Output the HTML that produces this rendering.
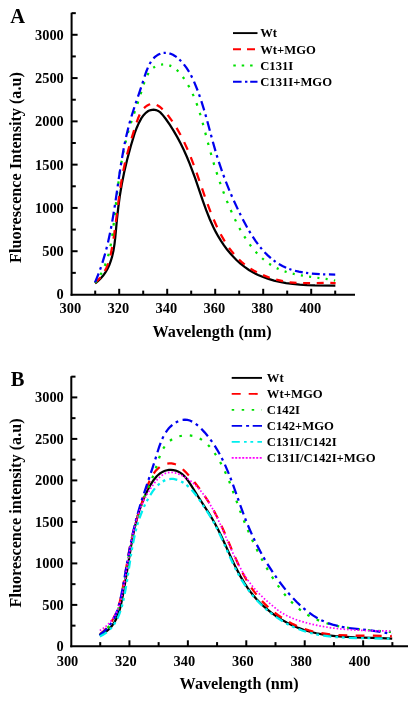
<!DOCTYPE html>
<html><head><meta charset="utf-8"><style>
html,body{margin:0;padding:0;background:#fff;width:417px;height:701px;overflow:hidden}
svg{display:block}
text{font-family:"Liberation Serif",serif;font-weight:bold}
svg{will-change:transform}
</style></head><body>
<svg width="417" height="701" viewBox="0 0 417 701">
<rect width="417" height="701" fill="#fff"/>
<g font-size="20.5"><text x="10.3" y="22.8">A</text><text x="10.8" y="385.7">B</text></g>
<g stroke="#000" stroke-width="2" fill="none">
<line x1="71.6" y1="12.8" x2="71.6" y2="295.8" />
<line x1="71.6" y1="272.86" x2="75.80" y2="272.86"/>
<line x1="71.6" y1="251.22" x2="77.60" y2="251.22"/>
<line x1="71.6" y1="229.57" x2="75.80" y2="229.57"/>
<line x1="71.6" y1="207.93" x2="77.60" y2="207.93"/>
<line x1="71.6" y1="186.29" x2="75.80" y2="186.29"/>
<line x1="71.6" y1="164.65" x2="77.60" y2="164.65"/>
<line x1="71.6" y1="143.00" x2="75.80" y2="143.00"/>
<line x1="71.6" y1="121.36" x2="77.60" y2="121.36"/>
<line x1="71.6" y1="99.72" x2="75.80" y2="99.72"/>
<line x1="71.6" y1="78.08" x2="77.60" y2="78.08"/>
<line x1="71.6" y1="56.43" x2="75.80" y2="56.43"/>
<line x1="71.6" y1="34.79" x2="77.60" y2="34.79"/>
<line x1="71.6" y1="13.15" x2="75.80" y2="13.15"/>
<line x1="70.6" y1="294.8" x2="355" y2="294.8" />
<line x1="95.20" y1="294.8" x2="95.20" y2="290.60"/>
<line x1="119.20" y1="294.8" x2="119.20" y2="288.80"/>
<line x1="143.20" y1="294.8" x2="143.20" y2="290.60"/>
<line x1="167.20" y1="294.8" x2="167.20" y2="288.80"/>
<line x1="191.20" y1="294.8" x2="191.20" y2="290.60"/>
<line x1="215.20" y1="294.8" x2="215.20" y2="288.80"/>
<line x1="239.20" y1="294.8" x2="239.20" y2="290.60"/>
<line x1="263.20" y1="294.8" x2="263.20" y2="288.80"/>
<line x1="287.20" y1="294.8" x2="287.20" y2="290.60"/>
<line x1="311.20" y1="294.8" x2="311.20" y2="288.80"/>
<line x1="335.20" y1="294.8" x2="335.20" y2="290.60"/>
<line x1="71.3" y1="376.2" x2="71.3" y2="647.3" />
<line x1="71.3" y1="625.65" x2="75.50" y2="625.65"/>
<line x1="71.3" y1="604.90" x2="77.30" y2="604.90"/>
<line x1="71.3" y1="584.15" x2="75.50" y2="584.15"/>
<line x1="71.3" y1="563.40" x2="77.30" y2="563.40"/>
<line x1="71.3" y1="542.65" x2="75.50" y2="542.65"/>
<line x1="71.3" y1="521.90" x2="77.30" y2="521.90"/>
<line x1="71.3" y1="501.15" x2="75.50" y2="501.15"/>
<line x1="71.3" y1="480.40" x2="77.30" y2="480.40"/>
<line x1="71.3" y1="459.65" x2="75.50" y2="459.65"/>
<line x1="71.3" y1="438.90" x2="77.30" y2="438.90"/>
<line x1="71.3" y1="418.15" x2="75.50" y2="418.15"/>
<line x1="71.3" y1="397.40" x2="77.30" y2="397.40"/>
<line x1="71.3" y1="376.65" x2="75.50" y2="376.65"/>
<line x1="70.3" y1="646.3" x2="408" y2="646.3" />
<line x1="100.22" y1="646.3" x2="100.22" y2="642.10"/>
<line x1="129.43" y1="646.3" x2="129.43" y2="640.30"/>
<line x1="158.64" y1="646.3" x2="158.64" y2="642.10"/>
<line x1="187.86" y1="646.3" x2="187.86" y2="640.30"/>
<line x1="217.07" y1="646.3" x2="217.07" y2="642.10"/>
<line x1="246.29" y1="646.3" x2="246.29" y2="640.30"/>
<line x1="275.50" y1="646.3" x2="275.50" y2="642.10"/>
<line x1="304.72" y1="646.3" x2="304.72" y2="640.30"/>
<line x1="333.94" y1="646.3" x2="333.94" y2="642.10"/>
<line x1="363.15" y1="646.3" x2="363.15" y2="640.30"/>
<line x1="392.37" y1="646.3" x2="392.37" y2="642.10"/>
</g>
<g font-size="14.4">
<text x="63.8" y="299.4" text-anchor="end">0</text>
<text x="63.8" y="256.1" text-anchor="end">500</text>
<text x="63.8" y="212.8" text-anchor="end">1000</text>
<text x="63.8" y="169.5" text-anchor="end">1500</text>
<text x="63.8" y="126.3" text-anchor="end">2000</text>
<text x="63.8" y="83.0" text-anchor="end">2500</text>
<text x="63.8" y="39.7" text-anchor="end">3000</text>
<text x="70.4" y="313" text-anchor="middle">300</text>
<text x="118.4" y="313" text-anchor="middle">320</text>
<text x="166.4" y="313" text-anchor="middle">340</text>
<text x="214.4" y="313" text-anchor="middle">360</text>
<text x="262.4" y="313" text-anchor="middle">380</text>
<text x="310.4" y="313" text-anchor="middle">400</text>
<text x="63.8" y="651.3" text-anchor="end">0</text>
<text x="63.8" y="609.8" text-anchor="end">500</text>
<text x="63.8" y="568.3" text-anchor="end">1000</text>
<text x="63.8" y="526.8" text-anchor="end">1500</text>
<text x="63.8" y="485.3" text-anchor="end">2000</text>
<text x="63.8" y="443.8" text-anchor="end">2500</text>
<text x="63.8" y="402.3" text-anchor="end">3000</text>
<text x="67.5" y="665.8" text-anchor="middle">300</text>
<text x="125.9" y="665.8" text-anchor="middle">320</text>
<text x="184.4" y="665.8" text-anchor="middle">340</text>
<text x="242.8" y="665.8" text-anchor="middle">360</text>
<text x="301.2" y="665.8" text-anchor="middle">380</text>
<text x="359.6" y="665.8" text-anchor="middle">400</text>
</g>
<g font-size="16.2">
<text x="152.5" y="337.4">Wavelength (nm)</text>
<text x="179.6" y="689.4">Wavelength (nm)</text>
<text transform="translate(20.8,262.9) rotate(-90)">Fluorescence Intensity (a.u)</text>
<text transform="translate(20.8,607.4) rotate(-90)">Fluorescence intensity (a.u)</text>
</g>
<g fill="none" stroke-width="2.25">
<path d="M95.17,283.41L98.13,281.00L100.87,278.30L103.40,275.32L105.59,272.16L107.56,268.72L109.30,264.99L110.81,260.98L112.09,256.68L113.43,250.73L114.53,243.83L115.25,237.62L116.95,219.51L118.25,207.67L119.87,195.66L121.72,184.45L124.17,172.29L127.18,159.54L130.89,145.75L134.53,133.72L136.65,127.97L138.89,122.91L141.28,118.45L143.56,115.17L145.84,112.74L148.19,111.09L149.39,110.53L150.78,110.07L152.20,109.81L153.62,109.73L155.99,110.05L158.19,110.94L160.30,112.45L162.43,114.62L165.83,119.03L169.92,124.93L173.65,130.84L177.28,137.14L180.53,143.29L183.71,149.81L186.74,156.57L189.76,163.84L195.13,178.12L202.94,201.08L206.09,209.89L209.69,219.02L213.27,226.99L215.74,231.89L218.27,236.44L221.00,240.91L223.83,245.13L226.85,249.23L229.95,253.06L233.11,256.60L236.42,259.97L240.47,263.66L244.61,266.96L248.94,269.96L253.32,272.55L258.13,274.97L263.11,277.07L268.39,278.92L274.09,280.56L279.91,281.90L286.13,283.04L292.75,283.95L299.73,284.63L307.03,285.11L314.94,285.40L335.34,285.52" stroke="#000"/>
<path d="M94.99,282.80L97.85,280.26L100.47,277.41M104.78,271.04L106.56,267.43L108.16,263.37M110.45,255.49L112.17,246.96M113.52,238.74L114.77,230.08M115.87,221.80L116.97,213.11M118.02,204.81L119.16,196.13M120.34,187.87L121.73,179.25M123.25,171.07L125.08,162.58M127.04,154.55L129.28,146.23M131.58,138.35L134.12,130.15M136.64,122.39L138.22,118.02L139.74,114.52M144.00,108.13L145.39,106.84L146.96,105.69L148.62,104.80L150.17,104.25M156.69,104.97L158.15,105.75L159.63,106.74L162.69,109.36M167.63,114.95L172.36,121.40M176.55,127.91L180.60,135.06M184.18,142.13L187.66,149.75M190.75,157.18L193.80,165.09M196.58,172.72L199.40,180.76M202.06,188.46L204.87,196.51M207.62,204.15L210.64,212.08M213.69,219.54L217.12,227.19M220.68,234.28L224.76,241.40M229.04,247.82L231.44,251.03L233.93,254.07M239.00,259.48L241.78,262.05L244.71,264.50M250.50,268.60L253.58,270.47L256.82,272.25M263.05,275.16L269.71,277.68M276.16,279.62L283.00,281.20M289.58,282.28L296.51,282.98M303.14,283.24L310.09,283.22M316.73,283.06L323.68,282.91M330.32,282.92L335.63,283.12" stroke="#ff0000"/>
<path d="M95.18,282.90L96.57,280.99M100.47,274.83L101.63,272.68M104.77,265.86L105.67,263.53M108.06,256.23L108.73,253.77M110.46,246.18L110.95,243.66M112.20,235.92L112.56,233.36M113.53,225.56L113.82,222.98M114.69,215.16L114.97,212.58M115.83,204.76L116.11,202.18M117.00,194.36L117.30,191.79M118.26,183.99L118.60,181.42M119.67,173.64L120.05,171.08M121.29,163.34L121.73,160.80M123.16,153.11L123.67,150.60M125.35,142.99L125.95,140.50M127.91,133.00L128.61,130.55M130.87,123.19L131.65,120.79M134.10,113.52L134.92,111.14M137.41,103.89L138.22,101.50M140.62,94.21L141.37,91.79M143.63,84.43L144.43,82.03M147.37,75.08L148.60,72.99M153.26,67.80L155.08,66.60M161.09,64.61L163.14,64.46M169.32,65.37L171.28,66.15M176.75,69.91L178.37,71.50M182.86,76.98L184.23,78.92M188.12,85.10L189.31,87.22M192.64,93.89L193.66,96.15M196.49,103.19L197.34,105.56M199.76,112.84L200.50,115.26M202.62,122.69L203.29,125.15M205.27,132.65L205.91,135.11M207.89,142.61L208.55,145.07M210.61,152.53L211.31,154.97M213.48,162.38L214.21,164.81M216.51,172.15L217.29,174.56M219.73,181.83L220.56,184.21M223.17,191.38L224.05,193.73M226.83,200.81L227.77,203.12M230.73,210.07L231.73,212.34M234.88,219.16L235.96,221.37M239.38,227.98L240.55,230.12M244.29,236.44L245.57,238.47M249.68,244.41L251.10,246.29M255.63,251.73L257.19,253.42M262.14,258.23L263.83,259.69M269.19,263.74L271.02,264.94M276.72,268.13L278.65,269.04M284.61,271.36L286.60,272.01M292.70,273.67L294.72,274.13M300.89,275.35L302.92,275.70M309.12,276.64L311.16,276.93M317.37,277.75L319.41,278.02M325.61,278.88L327.65,279.19M333.84,280.27L335.17,280.54" stroke="#00e000"/>
<path d="M95.04,282.37L98.67,273.50M100.08,269.69L100.98,267.13M102.38,262.89L105.17,253.53M106.23,249.56L106.91,246.89M107.98,242.49L110.08,232.86M110.89,228.78L111.41,226.06M112.23,221.58L113.87,211.80M114.53,207.68L114.95,204.93M115.63,200.41L117.06,190.58M117.66,186.45L118.06,183.69M118.71,179.17L120.18,169.34M120.83,165.22L121.27,162.48M122.02,157.98L123.77,148.23M124.57,144.15L125.12,141.44M126.08,137.00L128.36,127.43M129.41,123.45L130.15,120.81M131.42,116.50L134.38,107.22M135.67,103.36L136.54,100.78M137.98,96.56L141.09,87.37M142.37,83.49L143.21,80.90M144.57,76.64L146.32,71.51L147.89,67.57M149.61,63.98L150.93,61.73M153.44,58.42L155.00,56.88L156.71,55.56L158.42,54.55L160.34,53.72M163.60,52.94L165.81,52.81M169.41,53.33L171.19,53.95L172.97,54.79L174.85,55.91L176.66,57.21M179.41,59.56L181.15,61.28M183.87,64.33L186.54,67.88L189.08,71.83M190.99,75.26L192.19,77.62M194.03,81.58L197.64,90.48M199.03,94.29L199.93,96.85M201.35,101.08L204.23,110.39M205.37,114.34L206.12,116.97M207.32,121.31L209.87,130.78M210.93,134.76L211.65,137.41M212.83,141.76L215.50,151.17M216.67,155.10L217.48,157.70M218.84,161.97L221.96,171.15M223.34,174.98L224.28,177.51M225.86,181.65L229.44,190.56M231.01,194.27L232.07,196.72M233.86,200.73L237.87,209.35M239.61,212.92L240.78,215.29M242.75,219.16L247.18,227.44M249.13,230.84L250.46,233.07M252.71,236.68L255.35,240.63L257.92,244.20M260.25,247.19L261.85,249.12M264.57,252.17L267.74,255.37L270.87,258.19M273.68,260.44L275.59,261.84M278.82,263.96L282.44,265.99L286.13,267.73M289.30,268.97L291.43,269.70M294.97,270.74L298.81,271.66L302.76,272.43M306.05,272.95L308.25,273.24M311.87,273.64L319.76,274.20M323.07,274.34L325.29,274.40M328.92,274.47L335.24,274.50" stroke="#0000ee"/>
<path d="M99.53,635.36L103.02,633.57L106.10,631.53L108.93,629.16L111.49,626.44L113.68,623.50L115.69,620.08L117.44,616.32L118.93,612.23L119.95,608.80L120.94,604.80L123.14,593.88L125.50,580.44L131.12,545.91L132.78,536.77L134.39,528.97L136.49,520.25L138.79,512.21L141.41,504.52L144.29,497.31L147.48,490.42L150.65,484.56L153.67,479.97L156.75,476.30L158.36,474.75L159.94,473.48L161.61,472.37L163.36,471.44L165.05,470.77L166.97,470.25L168.94,469.94L170.94,469.85L173.38,470.04L175.75,470.56L177.99,471.42L180.10,472.60L182.19,474.16L184.27,476.12L186.43,478.58L188.57,481.43L191.17,485.36L198.25,496.76L208.68,512.94L211.95,518.29L214.75,523.19L217.79,528.94L221.03,535.56L231.58,558.65L235.74,567.36L240.19,575.88L244.62,583.40L247.43,587.65L250.31,591.64L253.37,595.50L256.61,599.21L260.01,602.78L263.58,606.19L267.30,609.45L271.29,612.63L276.37,616.29L281.64,619.66L287.10,622.73L292.71,625.49L298.46,627.92L304.18,629.97L310.16,631.74L316.38,633.24L322.37,634.39L328.58,635.33L335.34,636.11L342.47,636.71L354.63,637.35L380.92,638.07L392.20,638.57" stroke="#000"/>
<path d="M99.96,634.14L103.37,631.33L106.47,628.24M111.56,621.57L113.75,617.79L115.67,613.80M118.58,605.92L119.77,601.80L120.86,597.42M122.57,589.20L124.13,580.54M125.52,572.26L126.95,563.57M128.35,555.29L129.96,546.64M131.70,538.42L133.80,529.88M136.04,521.78L138.57,513.35M141.09,505.34L143.79,496.96M146.42,488.99L148.06,484.51L149.62,480.79M153.70,473.46L155.13,471.55L156.61,469.87L158.10,468.44L159.73,467.11M167.30,463.62L169.47,463.33L171.59,463.37L173.84,463.77L175.92,464.49M182.80,469.23L185.44,471.85L188.86,475.61M194.30,482.01L199.72,488.95M204.60,495.78L209.39,503.16M213.64,510.40L217.77,518.17M221.42,525.74L225.01,533.77M228.32,541.49L231.76,549.60M235.10,557.30L238.76,565.30M242.50,572.82L246.77,580.52M251.27,587.61L253.80,591.18L256.50,594.68M262.00,601.03L265.03,604.14L268.26,607.21M274.68,612.62L278.15,615.22L281.83,617.75M289.03,622.08L292.98,624.14L296.91,625.98M304.73,629.05L308.89,630.37L313.17,631.52M321.40,633.21L330.12,634.40M338.49,635.10L347.28,635.49M355.68,635.64L364.48,635.68M372.88,635.71L381.67,635.84M390.07,636.18L391.88,636.30" stroke="#ff0000"/>
<path d="M99.81,635.00L101.87,633.41M107.54,627.92L109.19,625.92M113.56,619.34L114.78,617.05M117.91,609.80L118.77,607.34M120.97,599.76L121.58,597.23M123.20,589.50L123.68,586.95M125.04,579.16L125.46,576.60M126.70,568.80L127.10,566.23M128.34,558.42L128.75,555.86M130.10,548.07L130.58,545.52M132.15,537.78L132.72,535.24M134.60,527.57L135.26,525.05M137.44,517.46L138.20,514.97M140.67,507.47L141.53,505.02M144.29,497.61L145.24,495.19M148.27,487.90L149.28,485.50M152.27,478.19L153.20,475.76M155.76,468.29L156.54,465.81M159.00,458.30L159.90,455.86M163.23,448.71L164.61,446.50M169.95,440.72L172.09,439.26M179.37,436.27L181.91,435.73M189.79,435.43L192.36,435.80M199.75,438.50L201.97,439.85M208.01,444.93L209.77,446.83M214.60,453.08L216.05,455.24M220.12,462.01L221.36,464.29M224.88,471.36L225.96,473.73M229.05,481.00L230.01,483.42M232.81,490.80L233.71,493.24M236.39,500.68L237.27,503.12M239.98,510.54L240.90,512.97M243.77,520.33L244.75,522.74M247.79,530.03L248.82,532.42M252.06,539.63L253.16,541.98M256.60,549.09L257.76,551.42M261.42,558.42L262.66,560.71M266.53,567.59L267.84,569.84M271.95,576.58L273.35,578.78M277.77,585.32L279.28,587.43M284.11,593.69L285.77,595.69M291.08,601.53L292.92,603.37M298.80,608.64L300.84,610.26M307.34,614.75L309.58,616.07M316.65,619.58L319.05,620.59M326.50,623.21L328.99,623.94M336.66,625.85L339.20,626.37M346.98,627.73L349.56,628.11M357.40,629.08L359.98,629.35M367.85,630.08L370.44,630.29M378.31,630.91L380.91,631.11M388.78,631.77L391.00,631.98" stroke="#00e000"/>
<path d="M99.51,635.09L103.47,631.95L106.98,628.47M109.65,625.23L111.25,622.94M113.60,618.98L115.71,614.56L117.53,609.80M118.79,605.79L119.52,603.09M120.59,598.62L122.53,588.81M123.27,584.67L123.76,581.92M124.56,577.39L126.27,567.53M127.00,563.40L127.48,560.64M128.29,556.11L130.13,546.28M130.94,542.16L131.50,539.42M132.45,534.92L134.69,525.17M135.70,521.10L136.41,518.39M137.63,513.95L140.47,504.36M141.73,500.35L142.58,497.69M144.01,493.32L147.18,483.83M148.53,479.85L149.42,477.20M150.88,472.84L154.00,463.34M155.27,459.34L156.11,456.66M157.45,452.26L159.16,446.91L160.63,442.78M162.24,438.90L163.45,436.38M165.75,432.40L167.18,430.34L168.81,428.33L170.48,426.57L172.32,424.91M175.73,422.46L178.19,421.14M182.57,419.76L184.87,419.58L187.35,419.85L189.78,420.53L192.21,421.62M195.74,423.88L197.93,425.63M201.28,428.78L204.63,432.37L207.91,436.26M210.47,439.59L212.11,441.86M214.68,445.68L217.23,449.81L219.76,454.28M221.71,458.00L222.96,460.51M224.92,464.67L228.85,473.87M230.39,477.77L231.39,480.39M232.99,484.70L236.36,494.12M237.75,498.08L238.68,500.72M240.21,505.06L243.63,514.45M245.13,518.38L246.16,520.98M247.89,525.24L251.87,534.42M253.63,538.23L254.83,540.76M256.86,544.89L261.52,553.74M263.57,557.40L264.97,559.82M267.34,563.77L272.72,572.20M275.08,575.67L276.69,577.96M279.39,581.69L285.52,589.59M288.21,592.81L290.04,594.93M293.14,598.33L296.72,602.02L300.24,605.37M303.38,608.15L305.54,609.94M309.18,612.74L313.34,615.61L317.57,618.19M321.27,620.16L323.81,621.35M328.06,623.10L332.58,624.61L337.64,625.94M341.75,626.81L344.51,627.31M349.05,628.00L358.98,629.19M363.16,629.63L365.94,629.92M370.51,630.43L380.42,631.81M384.55,632.59L387.28,633.19M391.72,634.38L391.89,634.43" stroke="#0000ee"/>
<path d="M99.89,636.54L103.41,634.59L106.74,632.25M109.86,629.44L111.69,627.45M113.95,624.52L115.47,622.17M117.47,618.48L119.04,614.94L120.49,610.97M121.72,606.96L122.41,604.35M123.28,600.75L123.88,598.02M124.72,593.90L126.18,585.93M126.88,581.79L127.31,579.13M127.88,575.47L128.30,572.70M128.92,568.55L130.13,560.54M130.77,556.39L131.20,553.72M131.81,550.07L132.29,547.31M133.05,543.18L134.70,535.25M135.66,531.17L136.33,528.55M137.32,524.99L138.12,522.30M139.42,518.31L142.28,510.73M143.96,506.88L145.12,504.44M146.79,501.14L148.14,498.69M150.27,495.07L152.65,491.43L154.91,488.44M157.71,485.31L159.71,483.50M162.73,481.37L165.24,480.13M169.29,479.04L171.21,478.89L173.25,478.98L175.30,479.32L177.27,479.86M181.14,481.48L183.48,482.83M186.49,484.97L188.62,486.79M191.59,489.76L194.12,492.71L196.69,496.05M199.11,499.48L200.63,501.72M202.68,504.79L204.24,507.12M206.57,510.62L210.90,517.46M213.01,521.09L214.31,523.46M216.03,526.73L217.29,529.23M219.12,533.01L222.52,540.36M224.24,544.20L225.33,546.67M226.83,550.05L227.96,552.61M229.68,556.44L233.08,563.79M234.92,567.57L236.13,569.98M237.85,573.26L239.19,575.72M241.28,579.36L245.63,586.19M248.06,589.62L249.68,591.78M251.98,594.68L253.78,596.82M256.56,599.96L262.24,605.74M265.33,608.58L267.37,610.35M270.23,612.70L272.45,614.41M275.84,616.88L282.64,621.29M286.28,623.38L288.67,624.64M291.98,626.28L294.53,627.44M298.41,629.06L302.23,630.47L306.06,631.72M310.10,632.86L312.72,633.52M316.33,634.32L319.08,634.86M323.22,635.56L331.25,636.61M335.43,637.02L338.12,637.23M341.81,637.48L344.61,637.63M348.80,637.82L356.90,638.05M361.10,638.13L363.80,638.17M367.50,638.21L370.30,638.25M374.50,638.30L382.60,638.47M386.79,638.60L389.49,638.71" stroke="#00eeee"/>
<path d="M99.79,630.54L101.16,629.72M102.75,628.68L104.05,627.75M105.54,626.57L106.75,625.53M108.14,624.23L109.25,623.08M110.51,621.65L111.52,620.41M112.64,618.88L113.54,617.56M114.54,615.94L115.33,614.55M116.21,612.86L116.89,611.42M117.66,609.68L118.25,608.20M118.91,606.41L119.43,604.90M120.01,603.09L120.46,601.55M120.96,599.72L121.36,598.17M121.80,596.32L122.16,594.76M122.56,592.91L122.88,591.34M123.26,589.48L123.56,587.91M123.91,586.04L124.20,584.47M124.53,582.60L124.81,581.02M125.13,579.15L125.39,577.57M125.70,575.69L125.96,574.11M126.26,572.24L126.51,570.66M126.80,568.78L127.05,567.20M127.34,565.32L127.58,563.74M127.87,561.86L128.12,560.28M128.41,558.40L128.66,556.82M128.96,554.95L129.21,553.37M129.52,551.49L129.78,549.91M130.10,548.04L130.37,546.47M130.71,544.59L131.00,543.02M131.35,541.15L131.65,539.58M132.02,537.72L132.35,536.15M132.74,534.29L133.09,532.73M133.51,530.88L133.88,529.32M134.33,527.48L134.73,525.93M135.22,524.09L135.64,522.55M136.17,520.72L136.63,519.19M137.20,517.38L137.69,515.86M138.30,514.06L138.83,512.55M139.49,510.76L140.06,509.27M140.76,507.50L141.37,506.03M142.12,504.28L142.78,502.82M143.58,501.10L144.28,499.66M145.13,497.96L145.88,496.54M146.78,494.87L147.57,493.48M148.53,491.84L149.36,490.47M150.37,488.86L151.24,487.52M152.30,485.95L153.22,484.64M154.35,483.11L155.33,481.84M156.54,480.38L157.61,479.19M158.95,477.84L160.13,476.76M161.61,475.57L162.93,474.68M164.60,473.76L166.07,473.13M167.90,472.62L169.48,472.39M171.38,472.37L172.97,472.52M174.84,472.88L176.38,473.29M178.18,473.90L179.67,474.49M181.40,475.27L182.83,475.99M184.50,476.89L185.88,477.71M187.48,478.73L188.80,479.64M190.33,480.76L191.58,481.75M193.04,482.97L194.24,484.03M195.62,485.34L196.75,486.47M198.06,487.84L199.14,489.03M200.38,490.46L201.40,491.70M202.58,493.19L203.55,494.46M204.66,496.00L205.58,497.31M206.65,498.88L207.52,500.22M208.54,501.83L209.37,503.19M210.34,504.83L211.14,506.21M212.08,507.87L212.85,509.27M213.75,510.94L214.49,512.36M215.36,514.05L216.08,515.48M216.92,517.18L217.62,518.62M218.43,520.34L219.11,521.79M219.91,523.51L220.57,524.97M221.35,526.70L222.00,528.16M222.77,529.90L223.41,531.37M224.17,533.11L224.80,534.58M225.55,536.32L226.18,537.79M226.93,539.54L227.57,541.01M228.32,542.75L228.95,544.22M229.71,545.96L230.35,547.43M231.12,549.17L231.77,550.63M232.56,552.36L233.22,553.81M234.02,555.54L234.70,556.99M235.53,558.70L236.23,560.14M237.08,561.84L237.80,563.26M238.68,564.95L239.43,566.36M240.34,568.03L241.12,569.42M242.07,571.07L242.88,572.45M243.87,574.07L244.72,575.43M245.75,577.02L246.64,578.36M247.71,579.92L248.64,581.23M249.77,582.76L250.73,584.03M251.91,585.52L252.92,586.76M254.15,588.21L255.20,589.42M256.47,590.83L257.57,592.00M258.88,593.37L260.00,594.51M261.36,595.85L262.51,596.96M263.89,598.26L265.07,599.34M266.47,600.62L267.67,601.68M269.10,602.93L270.32,603.97M271.77,605.19L273.00,606.22M274.47,607.42L275.72,608.43M277.21,609.60L278.49,610.56M280.04,611.67L281.37,612.55M282.98,613.56L284.36,614.36M286.03,615.26L287.46,615.99M289.18,616.80L290.64,617.45M292.39,618.19L293.88,618.78M295.66,619.44L297.17,619.98M298.97,620.59L300.49,621.08M302.31,621.63L303.84,622.08M305.67,622.60L307.21,623.02M309.05,623.50L310.60,623.89M312.45,624.33L314.01,624.69M315.87,625.10L317.43,625.43M319.30,625.80L320.87,626.10M322.74,626.45L324.31,626.72M326.19,627.03L327.77,627.28M329.65,627.56L331.23,627.79M333.11,628.04L334.70,628.24M336.59,628.47L338.18,628.65M340.07,628.86L341.66,629.02M343.55,629.20L345.14,629.34M347.04,629.50L348.63,629.62M350.53,629.76L352.12,629.87M354.02,629.99L355.62,630.08M357.51,630.18L359.11,630.26M361.01,630.35L362.61,630.42M364.51,630.49L366.11,630.55M368.00,630.61L369.60,630.65M371.50,630.70L373.10,630.74M375.00,630.78L376.60,630.81M378.50,630.85L380.10,630.87M382.00,630.90L383.60,630.92M385.50,630.94L387.10,630.96M389.00,630.98L390.60,630.99" stroke="#ff00ff" stroke-width="1.7"/>
</g>
<g font-size="12.65">
<line x1="233" y1="33.10" x2="257.5" y2="33.10" stroke="#000"  stroke-width="1.9"/>
<text x="260.2" y="37.4" font-size="12.65">Wt</text>
<line x1="233" y1="49.30" x2="257.5" y2="49.30" stroke="#ff0000" stroke-dasharray="8 6" stroke-width="1.9"/>
<text x="260.2" y="53.6" font-size="12.65">Wt+MGO</text>
<line x1="233" y1="65.50" x2="257.5" y2="65.50" stroke="#00e000" stroke-dasharray="2.5 5.9" stroke-dashoffset="-0.3" stroke-width="1.9"/>
<text x="260.2" y="69.8" font-size="12.65">C131I</text>
<line x1="233" y1="81.70" x2="257.5" y2="81.70" stroke="#0000ee" stroke-dasharray="8.6 3.4 2.4 2.8" stroke-width="1.9"/>
<text x="260.2" y="86.0" font-size="12.65">C131I+MGO</text>
</g>
<g font-size="12.7">
<line x1="231.7" y1="377.90" x2="262" y2="377.90" stroke="#000"  stroke-width="1.9"/>
<text x="266.8" y="381.7" font-size="12.7">Wt</text>
<line x1="231.7" y1="393.90" x2="262" y2="393.90" stroke="#ff0000" stroke-dasharray="9 8" stroke-width="1.9"/>
<text x="266.8" y="397.7" font-size="12.7">Wt+MGO</text>
<line x1="231.7" y1="409.90" x2="262" y2="409.90" stroke="#00e000" stroke-dasharray="2.5 7.5" stroke-width="1.9"/>
<text x="266.8" y="413.7" font-size="12.7">C142I</text>
<line x1="231.7" y1="425.90" x2="262" y2="425.90" stroke="#0000ee" stroke-dasharray="10.4 4 3 3.6" stroke-width="1.9"/>
<text x="266.8" y="429.7" font-size="12.7">C142+MGO</text>
<line x1="231.7" y1="441.90" x2="262" y2="441.90" stroke="#00eeee" stroke-dasharray="8.1 4.2 2.7 3.7 2.8 4.2" stroke-width="1.9"/>
<text x="266.8" y="445.7" font-size="12.7">C131I/C142I</text>
<line x1="231.7" y1="457.90" x2="262" y2="457.90" stroke="#ff00ff" stroke-dasharray="2 1.5" stroke-width="1.9"/>
<text x="266.8" y="461.7" font-size="12.7">C131I/C142I+MGO</text>
</g>
</svg>
</body></html>
